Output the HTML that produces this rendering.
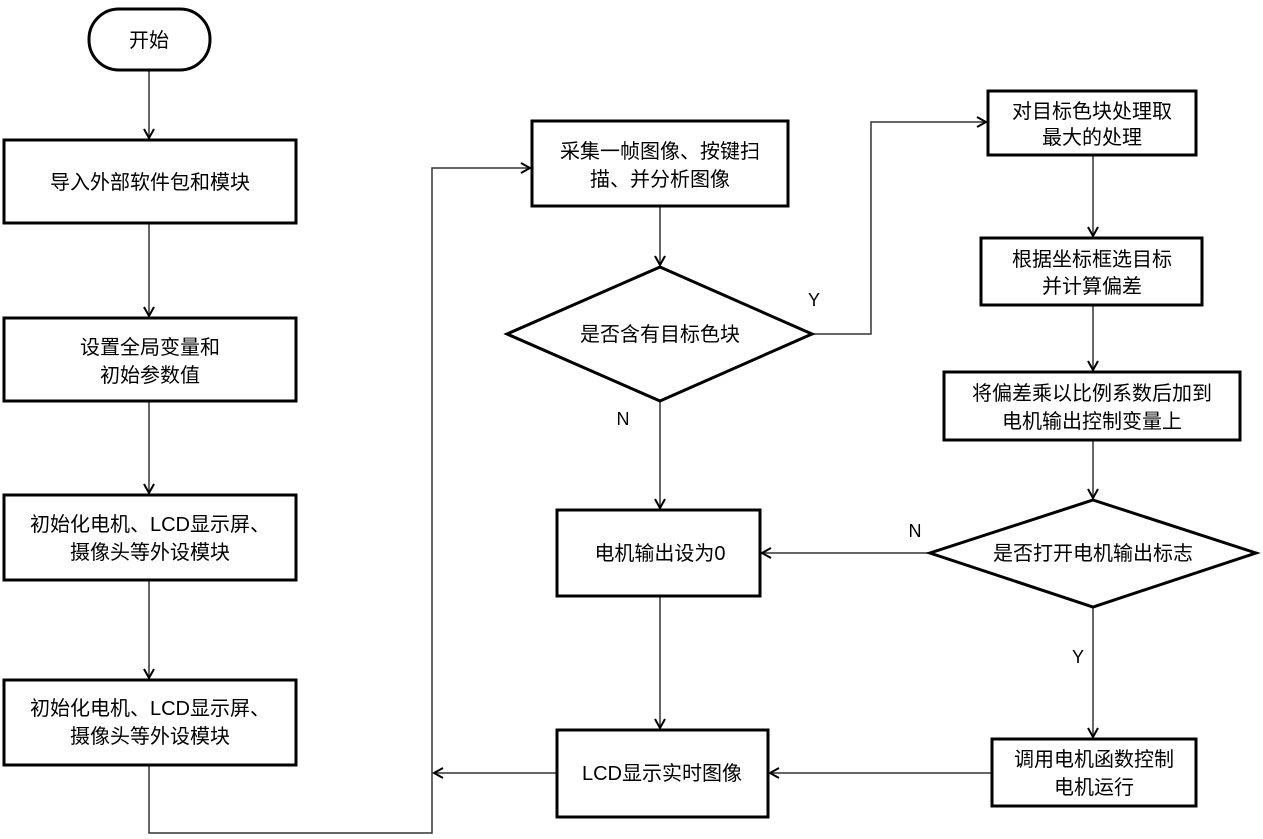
<!DOCTYPE html>
<html><head><meta charset="utf-8"><style>
html,body{margin:0;padding:0;background:#fff;}
svg{display:block;}
text{font-family:"Liberation Sans","Noto Sans CJK SC",sans-serif;font-size:20px;fill:#000;text-anchor:middle;}
.b{fill:#fff;stroke:#000;stroke-width:3;}
.l{fill:none;stroke:#333;stroke-width:1.5;}
</style></head><body>
<svg width="1263" height="839" viewBox="0 0 1263 839">
<defs><marker id="a" markerWidth="12" markerHeight="12" refX="10" refY="6" orient="auto" markerUnits="userSpaceOnUse"><path d="M1,1 L10,6 L1,11" fill="none" stroke="#000" stroke-width="2"/></marker></defs>
<!-- connectors -->
<path class="l" d="M149,70 V138" marker-end="url(#a)"/>
<path class="l" d="M149,223 V316" marker-end="url(#a)"/>
<path class="l" d="M149,401 V493" marker-end="url(#a)"/>
<path class="l" d="M149,580 V678" marker-end="url(#a)"/>
<path class="l" d="M149,765 V833 H432 V168 H530" marker-end="url(#a)"/>
<path class="l" d="M660,206 V265" marker-end="url(#a)"/>
<path class="l" d="M812,334 H871 V122 H986" marker-end="url(#a)"/>
<path class="l" d="M660,401 V508" marker-end="url(#a)"/>
<path class="l" d="M660,596 V728" marker-end="url(#a)"/>
<path class="l" d="M1093,155 V236" marker-end="url(#a)"/>
<path class="l" d="M1093,305 V370" marker-end="url(#a)"/>
<path class="l" d="M1093,440 V498" marker-end="url(#a)"/>
<path class="l" d="M930,553 H762" marker-end="url(#a)"/>
<path class="l" d="M1093,607 V737" marker-end="url(#a)"/>
<path class="l" d="M992,773 H770" marker-end="url(#a)"/>
<path class="l" d="M557,773 H434" marker-end="url(#a)"/>
<!-- shapes -->
<rect class="b" x="89" y="9" width="121" height="61" rx="30"/>
<text x="149" y="47">开始</text>
<rect class="b" x="4" y="140" width="292" height="83"/>
<text x="150" y="189">导入外部软件包和模块</text>
<rect class="b" x="4" y="318" width="292" height="83"/>
<text x="150" y="354">设置全局变量和</text><text x="150" y="382">初始参数值</text>
<rect class="b" x="4" y="495" width="292" height="85"/>
<text x="150" y="531">初始化电机、LCD显示屏、</text><text x="150" y="559">摄像头等外设模块</text>
<rect class="b" x="4" y="680" width="292" height="85"/>
<text x="150" y="715">初始化电机、LCD显示屏、</text><text x="150" y="743">摄像头等外设模块</text>
<rect class="b" x="532" y="121" width="256" height="85"/>
<text x="660" y="158">采集一帧图像、按键扫</text><text x="660" y="186">描、并分析图像</text>
<polygon class="b" points="660,267 812,334 660,401 507,334"/>
<text x="660" y="341">是否含有目标色块</text>
<rect class="b" x="557" y="510" width="203" height="86"/>
<text x="660" y="560">电机输出设为0</text>
<rect class="b" x="557" y="730" width="211" height="87"/>
<text x="662" y="780">LCD显示实时图像</text>
<rect class="b" x="988" y="91" width="208" height="64"/>
<text x="1092" y="118">对目标色块处理取</text><text x="1092" y="144">最大的处理</text>
<rect class="b" x="981" y="238" width="221" height="67"/>
<text x="1092" y="266">根据坐标框选目标</text><text x="1092" y="293">并计算偏差</text>
<rect class="b" x="944" y="372" width="296" height="68"/>
<text x="1092" y="400">将偏差乘以比例系数后加到</text><text x="1092" y="428">电机输出控制变量上</text>
<polygon class="b" points="1093,500 1256,553 1093,607 930,553"/>
<text x="1093" y="560">是否打开电机输出标志</text>
<rect class="b" x="992" y="739" width="204" height="67"/>
<text x="1094" y="766">调用电机函数控制</text><text x="1094" y="794">电机运行</text>
<!-- labels -->
<text x="814" y="306" style="font-size:18px">Y</text>
<text x="623" y="425" style="font-size:18px">N</text>
<text x="915" y="537" style="font-size:18px">N</text>
<text x="1078" y="663" style="font-size:18px">Y</text>
</svg>
</body></html>
